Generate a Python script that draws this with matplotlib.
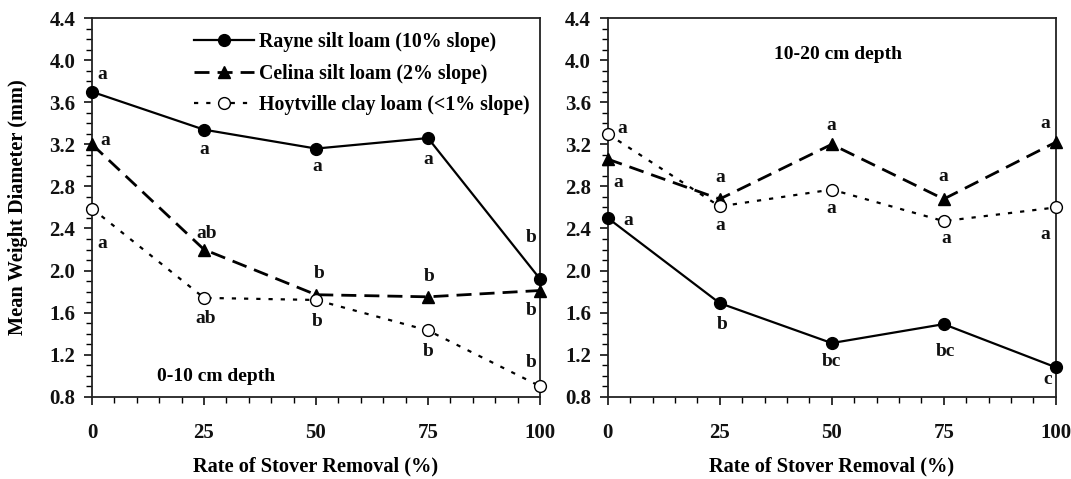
import matplotlib
matplotlib.use("Agg")
import matplotlib.pyplot as plt
from matplotlib.ticker import MultipleLocator, FormatStrFormatter

plt.rcParams['font.family'] = ['Liberation Serif', 'DejaVu Serif']
plt.rcParams['font.weight'] = 'bold'

# ---------------- data ----------------
removal = [0, 25, 50, 75, 100]
series_names = ["Rayne silt loam (10% slope)",
                "Celina silt loam (2% slope)",
                "Hoytville clay loam (<1% slope)"]

# 0-10 cm depth
rayne_0_10 = [3.70, 3.34, 3.16, 3.26, 1.92]
celina_0_10 = [3.20, 2.20, 1.77, 1.75, 1.81]
hoyt_0_10 = [2.59, 1.74, 1.72, 1.43, 0.90]
rayne_0_10_letters = ["a", "a", "a", "a", "b"]
celina_0_10_letters = ["a", "ab", "b", "b", "b"]
hoyt_0_10_letters = ["a", "ab", "b", "b", "b"]

# 10-20 cm depth
rayne_10_20 = [2.50, 1.69, 1.31, 1.49, 1.08]
celina_10_20 = [3.06, 2.68, 3.20, 2.68, 3.22]
hoyt_10_20 = [3.30, 2.61, 2.77, 2.47, 2.60]
rayne_10_20_letters = ["a", "b", "bc", "bc", "c"]
celina_10_20_letters = ["a", "a", "a", "a", "a"]
hoyt_10_20_letters = ["a", "a", "a", "a", "a"]

panel_titles = ["0-10 cm depth", "10-20 cm depth"]
x_label = "Rate of Stover Removal (%)"
y_label = "Mean Weight Diameter (mm)"

# ------------- letter offsets (pixels) -------------
off_rayne_L = [(10, 17), (0, -20), (1, -18), (0, -21), (-9, 41)]
off_celina_L = [(13, 4), (3, 16), (3, 21), (1, 20), (-9, -20)]
off_hoyt_L = [(10, -35), (2, -21), (1, -22), (0, -21), (-9, 24)]
off_rayne_R = [(21, -3), (2, -21), (0, -18), (2, -27), (-8, -12)]
off_celina_R = [(11, -23), (1, 22), (0, 19), (0, 23), (-10, 19)]
off_hoyt_R = [(15, 5), (1, -19), (0, -19), (3, -17), (-10, -27)]

# ------------- figure -------------
W, H = 1071, 479
fig = plt.figure(figsize=(W / 100, H / 100), dpi=100)
axL = fig.add_axes([92 / W, 1 - 396.7 / H, 448 / W, 378.5 / H])
axR = fig.add_axes([607.7 / W, 1 - 396.7 / H, 448 / W, 378.5 / H])

styles = [
    dict(color='black', lw=1.6, ls='-', marker='o', ms=8.5, mfc='black', mec='black'),
    dict(color='black', lw=2.0, ls=(0, (5.4, 2.9)), marker='^', ms=8.5, mfc='black', mec='black'),
    dict(color='black', lw=1.6, ls=(0, (1.9, 3.6)), marker='o', ms=8.5, mfc='white', mec='black', mew=1.0),
]

def draw(ax, ys, letters, offs):
    handles = []
    for y, st, lab in zip(ys, styles, series_names):
        h, = ax.plot(removal, y, label=lab, clip_on=False, zorder=3, **st)
        handles.append(h)
    for y, lets, off in zip(ys, letters, offs):
        for xi, yi, t, (dx, dy) in zip(removal, y, lets, off):
            ax.annotate(t, (xi, yi), xytext=(dx, dy), textcoords='offset pixels',
                        ha='center', va='center', fontsize=14, fontweight='bold',
                        color='#111111')
    ax.set_xlim(0, 100)
    ax.set_ylim(0.8, 4.4)
    ax.xaxis.set_major_locator(MultipleLocator(25))
    ax.xaxis.set_minor_locator(MultipleLocator(5))
    ax.yaxis.set_major_locator(MultipleLocator(0.4))
    ax.yaxis.set_minor_locator(MultipleLocator(0.1))
    ax.yaxis.set_major_formatter(FormatStrFormatter('%.1f'))
    ax.tick_params(axis='both', which='major', direction='out', width=1.2,
                   labelsize=15, colors='#111111')
    ax.tick_params(axis='y', which='major', length=6, pad=6)
    ax.tick_params(axis='x', which='major', length=6, pad=13)
    ax.tick_params(axis='both', which='minor', direction='out', length=4.5, width=1.0)
    for s in ax.spines.values():
        s.set_linewidth(1.3)
        s.set_color('#222222')
    ax.set_xlabel(x_label, fontsize=14.7, fontweight='bold', labelpad=10)
    return handles

hL = draw(axL, [rayne_0_10, celina_0_10, hoyt_0_10],
          [rayne_0_10_letters, celina_0_10_letters, hoyt_0_10_letters],
          [off_rayne_L, off_celina_L, off_hoyt_L])
draw(axR, [rayne_10_20, celina_10_20, hoyt_10_20],
     [rayne_10_20_letters, celina_10_20_letters, hoyt_10_20_letters],
     [off_rayne_R, off_celina_R, off_hoyt_R])

axL.set_ylabel(y_label, fontsize=14.7, fontweight='bold')
axL.yaxis.set_label_coords(-0.143, 0.5)

axL.text(27.8, 0.99, panel_titles[0], ha='center', va='center', fontsize=14, fontweight='bold')
axR.text(51.4, 4.05, panel_titles[1], ha='center', va='center', fontsize=14, fontweight='bold')

axL.legend(handles=hL, loc='upper left', bbox_to_anchor=(0.228, 0.963), frameon=False,
           handlelength=3.0, handletextpad=0.25, borderpad=0,
           borderaxespad=0, labelspacing=0.58, prop={'weight': 'bold', 'size': 14.3})

fig.savefig('out.png', dpi=100)
